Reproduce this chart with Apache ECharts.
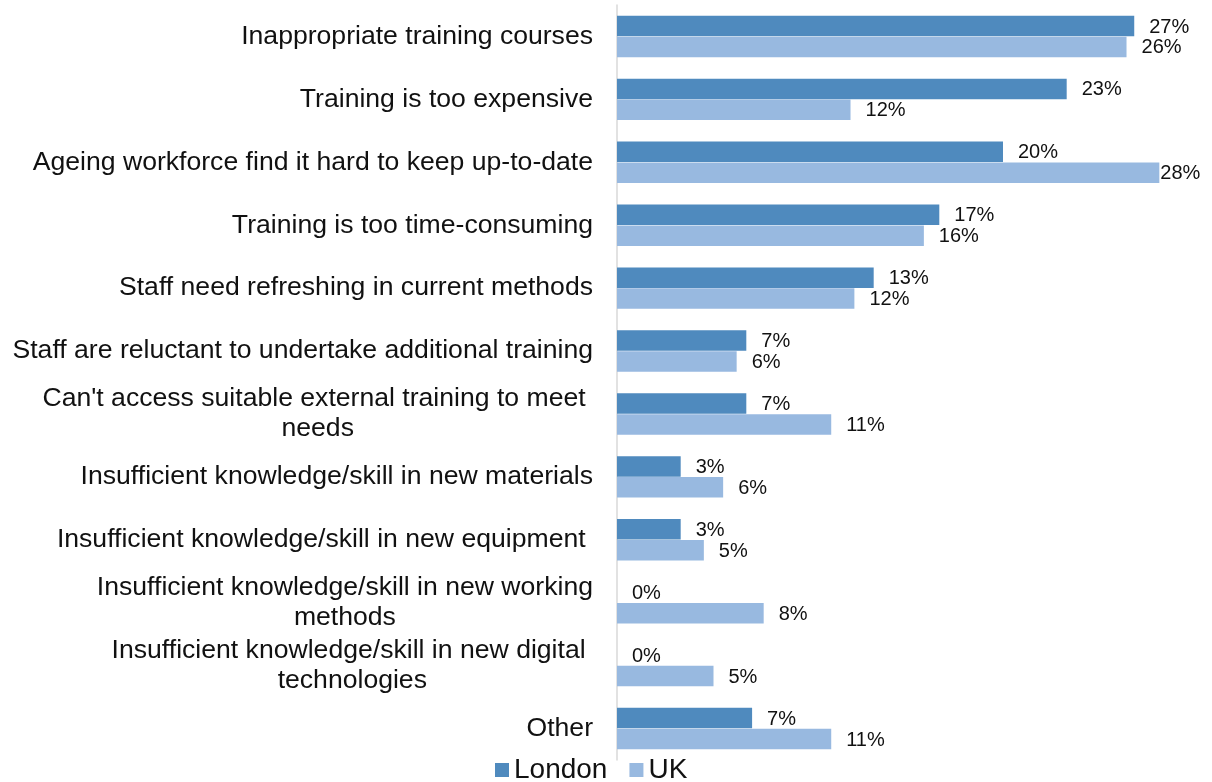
<!DOCTYPE html>
<html lang="en">

<head>
    <meta charset="UTF-8">
    <title>Training barriers</title>
    <style>
        html, body { margin: 0; padding: 0; background: #fff; }
        #main { width: 1212px; height: 782px; }
    </style>
    <script src="https://cdn.jsdelivr.net/npm/echarts@6/dist/echarts.min.js"></script>
</head>

<body>
    <div id="main"></div>

    <script>
        // categories, top to bottom (trailing spaces kept as in the original)
        var categories = [
            'Inappropriate training courses',
            'Training is too expensive',
            'Ageing workforce find it hard to keep up-to-date',
            'Training is too time-consuming',
            'Staff need refreshing in current methods',
            'Staff are reluctant to undertake additional training',
            "Can't access suitable external training to meet \nneeds",
            'Insufficient knowledge/skill in new materials',
            'Insufficient knowledge/skill in new equipment ',
            'Insufficient knowledge/skill in new working\nmethods',
            'Insufficient knowledge/skill in new digital \ntechnologies',
            'Other'
        ];
        // percentages (labels show them rounded)
        var londonValues = [26.8, 23.3, 20.0, 16.7, 13.3, 6.7, 6.7, 3.3, 3.3, 0, 0, 7.0];
        var ukValues = [26.4, 12.1, 28.1, 15.9, 12.3, 6.2, 11.1, 5.5, 4.5, 7.6, 5.0, 11.1];
        var seriesNames = ['London', 'UK'];
        var colors = ['#4f8abe', '#98b9e0'];
        var xMax = 30;

        var font = 'Arial, "Liberation Sans", sans-serif';

        // the longest bar keeps its label tight against the end (no room on the right)
        function toData(arr) {
            return arr.map(function (v) {
                return v > xMax - 2.5 ? { value: v, label: { distance: 1 } } : v;
            });
        }

        function makeSeries(i, arr) {
            return {
                name: seriesNames[i],
                type: 'bar',
                data: toData(arr),
                barWidth: 20.5,
                barGap: '2%',
                itemStyle: { color: colors[i] },
                label: {
                    show: true,
                    position: 'right',
                    distance: 15,
                    offset: [0, 1],
                    formatter: function (p) {
                        return Math.round(p.value) + '%';
                    },
                    color: '#111',
                    fontSize: 20,
                    fontFamily: font
                }
            };
        }

        var chart = echarts.init(document.getElementById('main'));

        var option = {
            animation: false,
            grid: { left: 617, right: 16, top: 5, bottom: 22 },
            legend: {
                data: seriesNames,
                left: 490,
                top: 751,
                itemWidth: 14,
                itemHeight: 14,
                itemGap: 22,
                icon: 'rect',
                textStyle: { fontSize: 28, fontFamily: font, color: '#111' }
            },
            xAxis: {
                type: 'value',
                min: 0,
                max: xMax,
                show: false
            },
            yAxis: {
                type: 'category',
                data: categories,
                inverse: true,
                axisLine: { show: true, lineStyle: { color: '#d9d9d9', width: 1.5 } },
                axisTick: { show: false },
                splitLine: { show: false },
                axisLabel: {
                    margin: 24,
                    color: '#111',
                    fontSize: 26.6,
                    fontFamily: font,
                    lineHeight: 30,
                    formatter: function (val) {
                        // wrapped labels: centre each line under the first
                        if (val.indexOf('\n') < 0) return val;
                        return val.split('\n').map(function (s) {
                            return '{c|' + s + '}';
                        }).join('\n');
                    },
                    rich: {
                        c: {
                            align: 'center',
                            fontSize: 26.6,
                            fontFamily: font,
                            color: '#111',
                            lineHeight: 30
                        }
                    }
                }
            },
            series: [
                makeSeries(0, londonValues),
                makeSeries(1, ukValues)
            ]
        };

        chart.setOption(option);
    </script>
</body>

</html>
